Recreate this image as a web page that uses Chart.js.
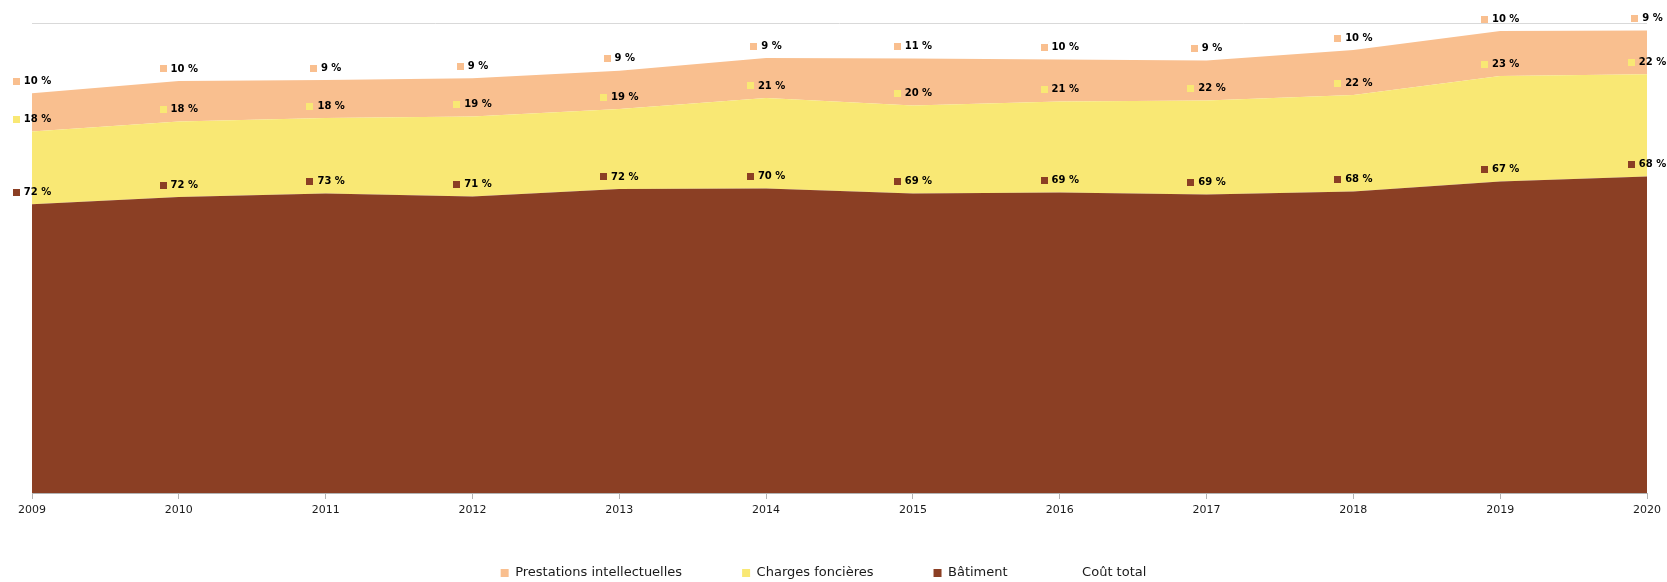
<!DOCTYPE html>
<html>
<head>
<meta charset="utf-8">
<script src="https://cdn.jsdelivr.net/npm/chart.js@4/dist/chart.umd.min.js"></script>
<style>
  html, body { margin: 0; padding: 0; background: #ffffff; }
  #wrap { width: 1667px; height: 582px; position: relative; }
</style>
</head>
<body>
<div id="wrap"><canvas id="c"></canvas></div>
<script>
// ---- Data ----
const years = ['2009','2010','2011','2012','2013','2014','2015','2016','2017','2018','2019','2020'];
const batiment     = [1444, 1480, 1498, 1482, 1520, 1523, 1498, 1502, 1493, 1507, 1557, 1582];
const charges      = [ 363,  378,  377,  400,  400,  452,  440,  455,  470,  483,  528,  512];
const prestations  = [ 192,  202,  190,  192,  191,  200,  235,  210,  200,  225,  225,  218];
const coutTotal    = [1999, 2060, 2065, 2074, 2111, 2175, 2173, 2167, 2163, 2215, 2310, 2312];
const seriesNames  = ['Bâtiment', 'Charges foncières', 'Prestations intellectuelles', 'Coût total'];
const yMax = 2350;

const COL_BAT = '#8b3f24';
const COL_CHG = '#f9e874';
const COL_PRE = '#f9bf8f';

const pctLabels = {
  id: 'pctLabels',
  afterDatasetsDraw(chart) {
    const ctx = chart.ctx;
    ctx.save();
    ctx.font = 'bold 10px "DejaVu Sans"';
    ctx.textBaseline = 'middle';
    ctx.textAlign = 'left';
    [0, 1, 2].forEach(di => {
      const meta = chart.getDatasetMeta(di);
      const ds = chart.data.datasets[di];
      meta.data.forEach((pt, i) => {
        const tot = batiment[i] + charges[i] + prestations[i];
        const txt = Math.round(ds.data[i] / tot * 100) + ' %';
        const tw = ctx.measureText(txt).width;
        const w = 7 + 4 + tw;
        const x0 = pt.x - w / 2;
        const yc = pt.y - 12;
        ctx.fillStyle = ds.backgroundColor;
        ctx.fillRect(Math.round(x0), Math.round(yc - 3.5), 7, 7);
        ctx.fillStyle = '#000000';
        ctx.fillText(txt, x0 + 11, yc);
      });
    });
    ctx.restore();
  }
};

// place the legend row at the reference height without shrinking the axis area
const legendPlacer = {
  id: 'legendPlacer',
  beforeDraw(chart) {
    const lg = chart.legend;
    if (lg) {
      lg.top = 506.5;
      lg.bottom = chart.height;
      lg.height = lg.bottom - lg.top;
    }
  }
};

const legendRank = [2, 1, 0, 3];

new Chart(document.getElementById('c'), {
  type: 'line',
  data: {
    labels: years,
    datasets: [
      { label: seriesNames[0], data: batiment, backgroundColor: COL_BAT, borderColor: COL_BAT,
        borderWidth: 0, pointRadius: 0, fill: 'origin', stack: 'cost', tension: 0 },
      { label: seriesNames[1], data: charges, backgroundColor: COL_CHG, borderColor: COL_CHG,
        borderWidth: 0, pointRadius: 0, fill: '-1', stack: 'cost', tension: 0 },
      { label: seriesNames[2], data: prestations, backgroundColor: COL_PRE, borderColor: COL_PRE,
        borderWidth: 0, pointRadius: 0, fill: '-1', stack: 'cost', tension: 0 },
      { label: seriesNames[3], data: coutTotal, backgroundColor: 'rgba(0,0,0,0)', borderColor: 'rgba(0,0,0,0)',
        borderWidth: 0, pointRadius: 0, fill: false, stack: 'total', tension: 0 }
    ]
  },
  options: {
    responsive: true,
    maintainAspectRatio: false,
    animation: false,
    devicePixelRatio: 1,
    layout: { padding: { left: 0, right: 20, top: 23, bottom: 0 } },
    scales: {
      x: {
        offset: false,
        grid: { drawOnChartArea: false, drawTicks: true, tickLength: 6, color: '#b3b3b3' },
        border: { display: true, color: '#b3b3b3' },
        ticks: { font: { family: 'DejaVu Sans', size: 11 }, color: '#1a1a1a', padding: 5,
                 maxRotation: 0, autoSkip: false },
        afterFit: s => { s.height = 26; }
      },
      y: {
        stacked: true,
        min: 0, max: yMax,
        ticks: { display: false, stepSize: yMax },
        grid: { color: '#d9d9d9', drawTicks: false },
        border: { display: false },
        afterFit: s => { s.width = 32; }
      }
    },
    plugins: {
      tooltip: { enabled: false },
      legend: {
        position: 'bottom',
        maxHeight: 63,
        labels: {
          boxWidth: 8, boxHeight: 8, padding: 60,
          font: { family: 'DejaVu Sans', size: 13 },
          color: '#1a1a1a',
          sort: (a, b) => legendRank[a.datasetIndex] - legendRank[b.datasetIndex]
        }
      }
    }
  },
  plugins: [pctLabels, legendPlacer]
});
</script>
</body>
</html>
